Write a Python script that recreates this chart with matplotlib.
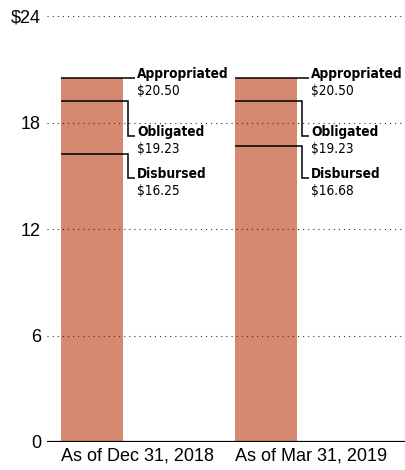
import matplotlib
matplotlib.use("Agg")
import matplotlib.pyplot as plt
from matplotlib import font_manager

# data (billions of dollars)
periods = ["As of Dec 31, 2018", "As of Mar 31, 2019"]
appropriated = [20.50, 20.50]
obligated = [19.23, 19.23]
disbursed = [16.25, 16.68]
yticks = [0, 6, 12, 18, 24]
ytick_labels = ["0", "6", "12", "18", "$24"]

bar_color = "#d5896f"
regular = ["Liberation Sans", "DejaVu Sans"]

# pick a narrow face if one is around
names = {f.name for f in font_manager.fontManager.ttflist}
if "Liberation Sans Narrow" in names:
    narrow = dict(family="Liberation Sans Narrow", fontsize=11.5)
elif any("Condensed" in f.fname for f in font_manager.fontManager.ttflist if f.name == "DejaVu Sans"):
    narrow = dict(family="DejaVu Sans", fontstretch="condensed", fontsize=9.8)
else:
    narrow = dict(family="Liberation Sans", fontsize=9.8)

fig = plt.figure(figsize=(4.06, 4.70), dpi=100)
ax = fig.add_axes([47 / 406, 28 / 470, 359 / 406, 426 / 470])

xs = list(range(len(periods)))
ax.bar(xs, appropriated, width=0.356, align="edge", color=bar_color, zorder=1)

ax.set_xlim(-0.080, 1.983)
ax.set_ylim(0, 24)

# dotted gridlines drawn over the bars
for y in yticks[1:]:
    ax.axhline(y, color="#333333", lw=0.8, linestyle=(0, (1, 3.6)), zorder=3)
ax.axhline(0, color="black", lw=1.6, zorder=4)

for s in ax.spines.values():
    s.set_visible(False)

ax.set_yticks(yticks)
ax.set_yticklabels(ytick_labels, family=regular, fontsize=13)
ax.set_xticks(xs)
ax.set_xticklabels(periods, family=regular, fontsize=13, ha="left")
ax.tick_params(axis="y", length=0, pad=4.3)
ax.tick_params(axis="x", length=0, pad=4)

# callouts
x_conn = 0.383
x_end = 0.425
x_text = 0.437
row_obl = 17.24
row_dis = 14.87
gap = 0.96
lw = 1.1

for i in xs:
    # appropriated
    ax.plot([i, i + x_end], [appropriated[i], appropriated[i]], color="black", lw=lw, zorder=5,
            solid_capstyle="butt")
    ax.text(i + x_text, appropriated[i], "Appropriated", fontweight="bold",
            va="baseline", ha="left", **narrow)
    ax.text(i + x_text, appropriated[i] - gap, f"${appropriated[i]:.2f}",
            va="baseline", ha="left", **narrow)
    # obligated and disbursed
    for val, row, name in [(obligated[i], row_obl, "Obligated"), (disbursed[i], row_dis, "Disbursed")]:
        ax.plot([i, i + x_conn, i + x_conn, i + x_end], [val, val, row, row], color="black", lw=lw,
                zorder=5, solid_joinstyle="miter", solid_capstyle="butt")
        ax.text(i + x_text, row, name, fontweight="bold",
                va="baseline", ha="left", **narrow)
        ax.text(i + x_text, row - gap, f"${val:.2f}",
                va="baseline", ha="left", **narrow)

fig.savefig("out.png", dpi=100)
